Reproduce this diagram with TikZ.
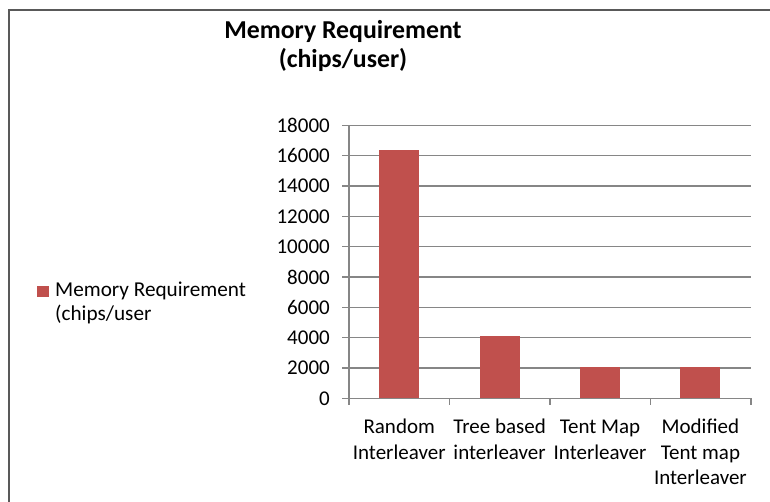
\documentclass[tikz,border=0pt]{standalone}
\usepackage{fontspec}
\setmainfont{Carlito}
\definecolor{barred}{HTML}{C0504D}
\definecolor{gridgray}{HTML}{868686}
\definecolor{framegray}{HTML}{595959}
\begin{document}
\begin{tikzpicture}[x=1pt,y=-1pt,
  gridline/.style={draw=gridgray,line width=1.5pt},
  barbox/.style={fill=barred,draw=none},
  ticklabel/.style={anchor=east,inner sep=0pt,font=\fontsize{21}{25.5}\selectfont},
  catlabel/.style={anchor=north,align=center,inner sep=0pt,font=\fontsize{21}{25.5}\selectfont},
  titlebox/.style={anchor=north,align=center,inner sep=0pt,font=\fontsize{25.8}{29.5}\selectfont\bfseries},
  legendtext/.style={anchor=north west,align=left,inner sep=0pt,font=\fontsize{21.2}{24}\selectfont},
]
\useasboundingbox (0,0) rectangle (770,501);
\fill[white] (0,0) rectangle (770,501);

% chart frame (only left and top edges fall inside the page)
\draw[framegray,line width=2pt] (9,505) -- (9,10) -- (775,10);

% title
\node[titlebox] (title) at (343,17.3) {\strut Memory Requirement\\(chips/user)};

% horizontal gridlines, ticks and value labels
\foreach \i/\val in {0/0,1/2000,2/4000,3/6000,4/8000,5/10000,6/12000,7/14000,8/16000,9/18000}{
  \pgfmathsetmacro\yy{398.3-\i*30.333}
  \draw[gridline] (342,\yy) -- (751,\yy);
  \node[ticklabel] (tick\i) at (330,\yy) {\val};
}

% value axis
\draw[gridline] (349,125.3) -- (349,398.3);

% category ticks
\foreach \x in {349,449.5,550,650.5,751}{
  \draw[gridline] (\x,398.3) -- (\x,405);
}

% bars
\fill[barbox] (379.2,149.8) rectangle (419.2,397.6);
\fill[barbox] (479.6,336.2) rectangle (519.6,397.6);
\fill[barbox] (580,367.2) rectangle (620,397.6);
\fill[barbox] (680.4,367.2) rectangle (720.4,397.6);

% category labels
\node[catlabel] (c1) at (399.2,415.5) {\strut Random\\Interleaver};
\node[catlabel] (c2) at (499.6,415.5) {\strut Tree based\\interleaver};
\node[catlabel] (c3) at (600,415.5) {\strut Tent Map\\Interleaver};
\node[catlabel] (c4) at (700.4,415.5) {\strut Modified\\Tent map\\Interleaver};

% legend
\fill[barred] (37,285.5) rectangle (48.5,297);
\node[legendtext] (legend) at (55,279.2) {\strut Memory Requirement\\(chips/user};
\end{tikzpicture}
\end{document}
